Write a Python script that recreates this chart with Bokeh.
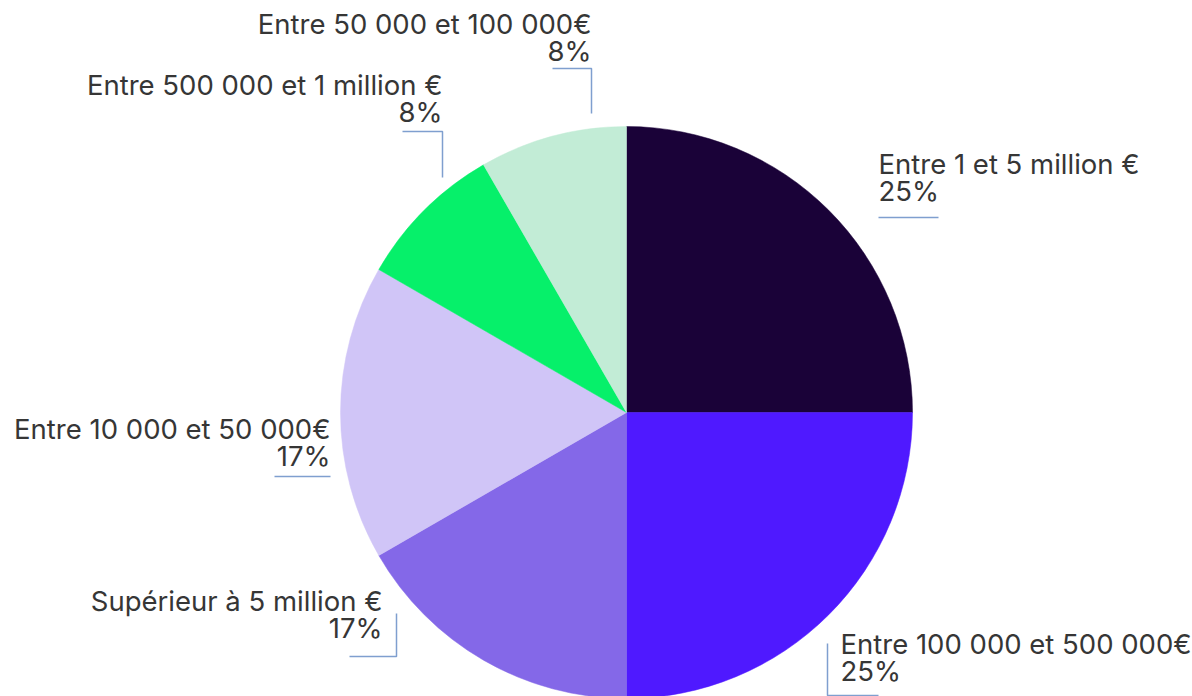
import math
from bokeh.plotting import figure
from bokeh.models import Range1d, ColumnDataSource
from bokeh.core.properties import value
from bokeh.embed import file_html
from bokeh.resources import INLINE

# ---- data ----
categories = [
    "Entre 1 et 5 million €",
    "Entre 100 000 et 500 000€",
    "Supérieur à 5 million €",
    "Entre 10 000 et 50 000€",
    "Entre 500 000 et 1 million €",
    "Entre 50 000 et 100 000€",
]
counts = [3, 3, 2, 2, 1, 1]
colors = ["#1a0238", "#4f19ff", "#8468e8", "#d0c5f7", "#06f06a", "#c2ecd6"]

# ---- layout (reference pixel coords; y measured downward) ----
W, H = 1192, 696
CX, CY, R = 626, 412, 286
label_x = [878, 840, 382, 330, 442, 591]
label_y = [163, 643, 600, 428, 84, 23]
label_align = ["left", "left", "right", "right", "right", "right"]
LINE_H = 27
leaders = [
    ([878, 938], [217, 217]),
    ([878, 827, 827], [695, 695, 643]),
    ([349, 396, 396], [656, 656, 613]),
    ([274, 330], [476, 476]),
    ([402, 442, 442], [131, 131, 177]),
    ([552, 591, 591], [68, 68, 113]),
]

FS = "27.5px"
TXT = "#363636"

total = sum(counts)
pcts = [f"{round(100 * c / total)}%" for c in counts]
starts, ends = [], []
cum = 0
for c in counts:
    a0 = math.pi / 2 - 2 * math.pi * cum / total
    cum += c
    a1 = math.pi / 2 - 2 * math.pi * cum / total
    starts.append(a1)
    ends.append(a0)

p = figure(width=W, height=H, output_backend="svg", toolbar_location=None,
           x_range=Range1d(0, W), y_range=Range1d(-H, 0),
           min_border=0)
p.axis.visible = False
p.grid.visible = False
p.outline_line_color = None
p.background_fill_color = "white"
p.border_fill_color = "white"

src = ColumnDataSource(dict(start=starts, end=ends, color=colors, cat=categories))
p.wedge(x=CX, y=-CY, radius=R, start_angle="start", end_angle="end",
        direction="anticlock", fill_color="color", line_color="color",
        line_width=0.5, source=src)

for (lx, ly) in leaders:
    p.line(x=lx, y=[-v for v in ly], line_color="#7f9fcf", line_width=1.5)

for align in ["left", "right"]:
    idx = [i for i in range(len(categories)) if label_align[i] == align]
    xs = [label_x[i] for i in idx] * 2
    ys = [-label_y[i] for i in idx] + [-(label_y[i] + LINE_H) for i in idx]
    ts = [categories[i] for i in idx] + [pcts[i] for i in idx]
    p.text(x=xs, y=ys, text=ts, text_align=align, text_baseline="alphabetic",
           text_font=value("Inter"), text_font_size=FS, text_color=TXT)

open("out.html", "w").write(file_html(p, INLINE))
